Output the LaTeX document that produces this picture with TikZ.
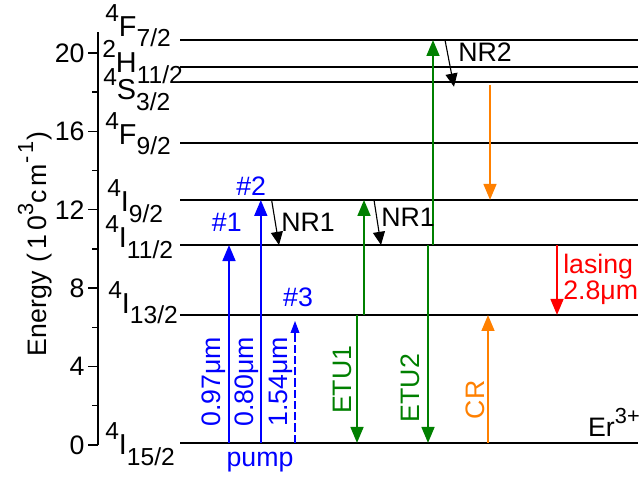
\documentclass[tikz,border=0pt]{standalone}
\usepackage{fontspec}
\setmainfont{Liberation Sans}
\usetikzlibrary{arrows.meta}

\definecolor{pumpblue}{RGB}{0,0,255}
\definecolor{etugreen}{RGB}{0,128,0}
\definecolor{crorange}{RGB}{255,128,0}
\definecolor{laserred}{RGB}{255,0,0}

\newcommand{\scrfont}{\fontsize{15.5}{18}\selectfont}
\newcommand{\termscr}{\fontsize{17.5}{20}\selectfont}
\newcommand{\upidx}[1]{\raisebox{0.5em}{\scrfont #1}}
\newcommand{\term}[3]{\raisebox{0.56em}{\termscr #1}{\fontsize{20.5}{24}\selectfont #2}\raisebox{-0.38em}{\termscr #3}}

\begin{document}
\begin{tikzpicture}[
    y=0.49cm,
    font=\fontsize{19}{22}\selectfont,
    >={Triangle[length=0.4cm,width=0.32cm]},
    level/.style={line width=1.4pt},
    axis/.style={line width=0.9pt},
    termlabel/.style={anchor=base west, inner sep=0pt},
    pumparrow/.style={->, pumpblue, line width=1.6pt},
    pumpdash/.style={-{Triangle[length=0.3cm,width=0.22cm]}, pumpblue,
                     dash pattern=on 6pt off 2pt, line width=0.8pt},
    etuarrow/.style={->, etugreen, line width=1.6pt},
    crarrow/.style={->, crorange, line width=1.6pt},
    lasarrow/.style={->, laserred, line width=1.6pt},
    nrarrow/.style={-{Triangle[length=0.33cm,width=0.3cm]}, line width=0.8pt}
]

\useasboundingbox (0,-1.786) rectangle (16,22.70);

% Achse
\coordinate (ybot) at (2.45,0);
\coordinate (ytop) at (2.45,21.07);
\draw[axis] (ybot) -- (ytop);
\foreach \e in {0,4,...,20}
  \draw[axis] (2.45,\e) -- (2.2,\e) node[left, inner sep=0.07cm] (t\e) {\e};
\foreach \e in {2,6,...,18}
  \draw[axis] (2.45,\e) -- (2.3,\e);

\node[rotate=90] (ylab) at (0.875,10.25)
  {Energy\kern6pt{\addfontfeature{LetterSpace=16}(10\upidx{3}cm\upidx{-1})}};

% Niveaus (linkes Ende)
\coordinate (F72) at (4.5,20.66);
\coordinate (H112) at (4.5,19.29);
\coordinate (S32) at (4.5,18.52);
\coordinate (F92) at (4.5,15.41);
\coordinate (I92) at (4.5,12.5);
\coordinate (I112) at (4.5,10.2);
\coordinate (I132) at (4.5,6.63);
\coordinate (I152) at (4.5,0.1);

\foreach \lv in {F72,H112,S32,F92,I92,I112,I132,I152}
  \draw[level] (\lv) -- ++(11.45,0);

% Termsymbole
\node[termlabel] (lF72) at (2.625,20.82) {\term{4}{F}{7/2}};
\node[termlabel] (lH112) at (2.55,18.98) {\term{2}{H}{11/2}};
\node[termlabel] (lS32) at (2.575,17.6) {\term{4}{S}{3/2}};
\node[termlabel] (lF92) at (2.625,15.31) {\term{4}{F}{9/2}};
\node[termlabel] (lI92) at (2.675,11.89) {\term{4}{I}{9/2}};
\node[termlabel] (lI112) at (2.625,10.05) {\term{4}{I}{11/2}};
\node[termlabel] (lI132) at (2.7,6.73) {\term{4}{I}{13/2}};
\node[termlabel] (lI152) at (2.625,-0.51) {\term{4}{I}{15/2}};

% Spalten der Pfeile
\coordinate (p1) at (5.725,0);
\coordinate (p2) at (6.52,0);
\coordinate (p3) at (7.375,0);
\coordinate (e1d) at (8.925,0);
\coordinate (e1u) at (9.1,0);
\coordinate (e2d) at (10.7,0);
\coordinate (e2u) at (10.825,0);
\coordinate (cru) at (12.2,0);
\coordinate (crd) at (12.25,0);
\coordinate (las) at (13.925,0);
\coordinate (n1a) at (6.79,0);
\coordinate (n1b) at (6.975,0);
\coordinate (n2a) at (9.35,0);
\coordinate (n2b) at (9.525,0);
\coordinate (n3a) at (11.125,0);
\coordinate (n3b) at (11.35,0);

% Pumpen
\draw[pumparrow] (p1 |- I152) -- (p1 |- I112);
\draw[pumparrow] (p2 |- I152) -- (p2 |- I92);
\draw[pumpdash] (p3 |- I152) -- ([yshift=-0.15cm]p3 |- I132);

% ETU, CR, Laser
\draw[etuarrow] (e1u |- I132) -- (e1u |- I92);
\draw[etuarrow] (e1d |- I132) -- (e1d |- I152);
\draw[etuarrow] (e2u |- I112) -- (e2u |- F72);
\draw[etuarrow] (e2d |- I112) -- (e2d |- I152);
\draw[crarrow] ([yshift=-0.08cm]crd |- S32) -- (crd |- I92);
\draw[crarrow] (cru |- I152) -- (cru |- I132);
\draw[lasarrow] (las |- I112) -- (las |- I132);

% nichtstrahlend
\draw[nrarrow] (n1a |- I92) -- (n1b |- I112);
\draw[nrarrow] (n2a |- I92) -- (n2b |- I112);
\draw[nrarrow] (n3a |- F72) -- ([yshift=-0.12cm]n3b |- S32);

% Beschriftung
\node[pumpblue] (h1) at (5.67,11.38) {\#1};
\node[pumpblue] (h2) at (6.28,13.21) {\#2};
\node[pumpblue] (h3) at (7.45,7.55) {\#3};
\node[pumpblue] (pump) at (6.5,-0.87) {pump};
\node[pumpblue, rotate=90] (w1) at (5.35,3.21) {0.97μm};
\node[pumpblue, rotate=90] (w2) at (6.175,3.21) {0.80μm};
\node[pumpblue, rotate=90] (w3) at (7.025,3.21) {1.54μm};
\node (nr1a) at (7.7,11.38) {NR1};
\node (nr1b) at (10.2,11.63) {NR1};
\node (nr2) at (12.125,20.05) {NR2};
\node[etugreen, rotate=90] (etu1) at (8.55,3.32) {ETU1};
\node[etugreen, rotate=90] (etu2) at (10.25,2.9) {ETU2};
\node[crorange, rotate=90] (cr) at (11.875,2.3) {CR};
\node[laserred, anchor=north west, align=left, inner sep=0pt,
      font=\fontsize{19}{16.4}\selectfont] (lasl) at (14.075,9.75) {lasing\\2.8μm};
\node[anchor=base east, inner sep=0pt] (er) at (16.0,0.41) {Er\upidx{3+}};

\end{tikzpicture}
\end{document}
